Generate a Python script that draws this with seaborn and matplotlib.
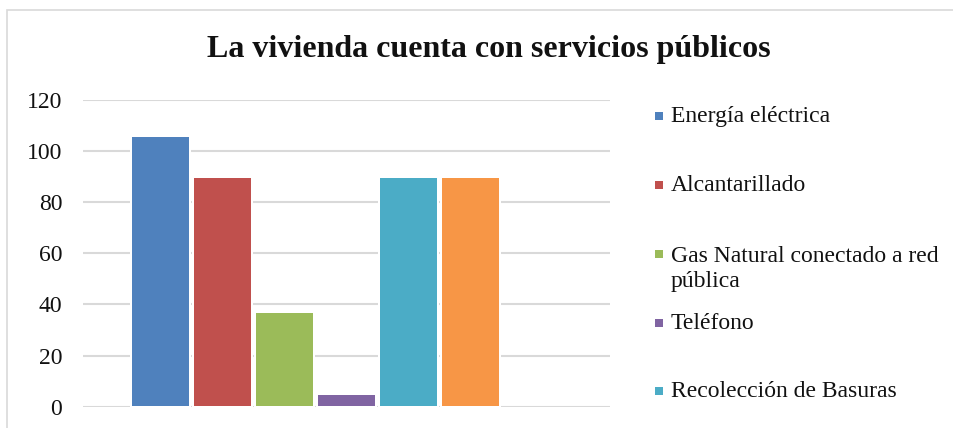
import numpy as np
import pandas as pd
import seaborn as sns
import matplotlib
matplotlib.use("Agg")
import matplotlib.pyplot as plt
from matplotlib.patches import Rectangle

# ---- data ----
categoria = ["Servicios"]
series = ["Energía eléctrica", "Alcantarillado", "Gas Natural conectado a red\npública",
          "Teléfono", "Recolección de Basuras", "Serie 6", "Serie 7"]
valores = [106, 90, 37, 5, 90, 90, 0]
colores = ["#4F81BD", "#C0504D", "#9BBB59", "#8064A2", "#4BACC6", "#F79646", "#2C4D75"]
yticks = [0, 20, 40, 60, 80, 100, 120]
titulo = "La vivienda cuenta con servicios públicos"
n_visibles_leyenda = 5  # the rest of the legend is cropped off in the reference

df = pd.DataFrame({"cat": categoria * len(series), "serie": series, "valor": valores})

sns.set_theme(style="white")
plt.rcParams["font.family"] = ["Liberation Serif", "DejaVu Serif"]

W, H = 954, 428
fig = plt.figure(figsize=(W / 100, H / 100), dpi=100)
fig.patch.set_facecolor("white")

# chart border (cropped at right and bottom)
fig.patches.append(Rectangle((7 / W, -20 / H), (W + 20) / W, (418 + 20) / H,
                             transform=fig.transFigure, fill=False,
                             edgecolor="#d9d9d9", linewidth=1.2))

ax = fig.add_axes([83 / W, (H - 406.7) / H, (610 - 83) / W, (406.7 - 100) / H])
sns.barplot(data=df, x="cat", y="valor", hue="serie", hue_order=series,
            palette=colores, saturation=1, width=7 / 8.5, gap=0.04,
            edgecolor="white", linewidth=1.44,
            legend=False, ax=ax, zorder=2)
for p in ax.patches:
    if p.get_height() == 0:
        p.set_linewidth(0)

ax.set_xlim(-0.5, 0.5)
ax.set_ylim(0, 120)
ax.set_yticks(yticks)
ax.set_yticklabels([str(v) for v in yticks], fontsize=17, color="#111111")
ax.tick_params(axis="y", length=0, pad=15)
ax.set_xticks([])
ax.set_xlabel("")
ax.set_ylabel("")
ax.grid(axis="y", color="#d9d9d9", linewidth=1.5, zorder=0)
ax.set_axisbelow(True)
for s in ax.spines.values():
    s.set_visible(False)

# title
fig.text(489 / W, 1 - 50 / H, titulo, ha="center", va="center",
         fontsize=23, fontweight="bold", color="#111111")

# legend (manual, Excel-like, top-aligned entries)
baselines = [122, 191, 260, 329, 397]
line_step = 27
for name, col, yb in zip(series[:n_visibles_leyenda], colores, baselines):
    fig.patches.append(Rectangle((655 / W, 1 - (yb - 2) / H), 8 / W, 8 / H,
                                 transform=fig.transFigure, facecolor=col,
                                 edgecolor="none"))
    extra = line_step * name.count("\n")
    fig.text(671 / W, 1 - (yb + extra) / H, name, ha="left", va="baseline",
             fontsize=17, color="#111111", linespacing=1.25)

fig.savefig("out.png", dpi=100)
